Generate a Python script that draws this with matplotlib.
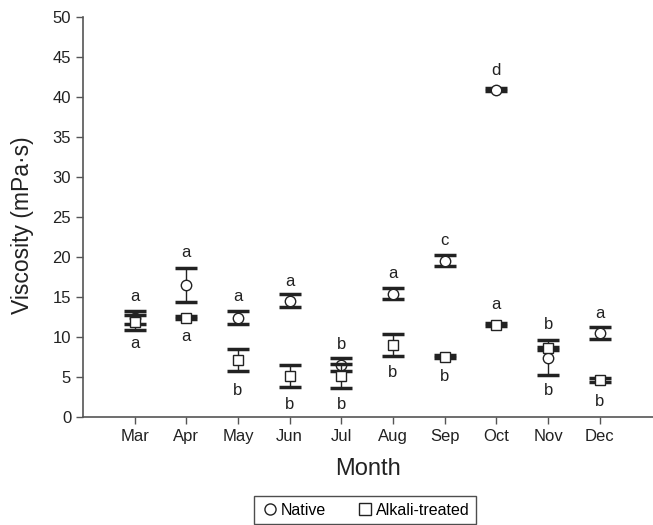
import numpy as np
import matplotlib
matplotlib.use('Agg')
import matplotlib.pyplot as plt
from matplotlib.lines import Line2D
from matplotlib import font_manager

# pick a narrow sans if one is installed
names = set(f.name for f in font_manager.fontManager.ttflist)
if 'Liberation Sans Narrow' in names:
	plt.rcParams['font.family'] = ['Liberation Sans Narrow', 'DejaVu Sans']
else:
	plt.rcParams['font.family'] = ['Liberation Sans', 'DejaVu Sans']

# ---------- data ---------- #

months = ['Mar', 'Apr', 'May', 'Jun', 'Jul', 'Aug', 'Sep', 'Oct', 'Nov', 'Dec']

native_mean = [12.4, 16.5, 12.4, 14.5, 6.5, 15.4, 19.5, 40.9, 7.4, 10.5]
native_err = [0.85, 2.1, 0.8, 0.8, 0.8, 0.7, 0.7, 0.2, 2.15, 0.75]
native_letter = ['a', 'a', 'a', 'a', 'b', 'a', 'c', 'd', 'b', 'a']
native_label_y = [15.0, 20.5, 15.0, 16.9, 9.0, 17.9, 22.1, 43.3, 3.3, 12.9]

alkali_mean = [11.8, 12.4, 7.1, 5.1, 5.1, 9.0, 7.5, 11.5, 8.55, 4.6]
alkali_err = [0.95, 0.2, 1.4, 1.4, 1.5, 1.35, 0.2, 0.2, 0.2, 0.2]
alkali_letter = ['a', 'a', 'b', 'b', 'b', 'b', 'b', 'a', 'b', 'b']
alkali_label_y = [9.2, 10.0, 3.3, 1.5, 1.5, 5.5, 5.0, 14.0, 11.5, 1.9]

# ---------- plot ---------- #

x = np.arange(len(months))
grey = '#555555'
dark = '#222222'

fig = plt.figure(figsize=(6.53, 5.25), dpi=100)
ax = fig.add_axes([0.127, 0.206, 0.873, 0.762])

bars = dict(fmt='none', ecolor=dark, elinewidth=1.0, capsize=8, capthick=2.5)
pts = dict(linestyle='none', markersize=7.5, markerfacecolor='white',
	markeredgecolor=dark, markeredgewidth=1.0)

ax.errorbar(x, native_mean, yerr=native_err, zorder=2, **bars)
ax.plot(x, native_mean, marker='o', zorder=3, **pts)
ax.errorbar(x, alkali_mean, yerr=alkali_err, zorder=4, **bars)
ax.plot(x, alkali_mean, marker='s', zorder=5, **pts)

for i in range(len(months)):
	ax.text(x[i], native_label_y[i], native_letter[i], ha='center', va='center',
		fontsize=12, color=dark)
	ax.text(x[i], alkali_label_y[i], alkali_letter[i], ha='center', va='center',
		fontsize=12, color=dark)

ax.set_xlim(-1, 10.03)
ax.set_ylim(0, 50)
ax.set_xticks(x)
ax.set_xticklabels(months)
ax.set_yticks(np.arange(0, 51, 5))

for s in ['top', 'right']:
	ax.spines[s].set_visible(False)
for s in ['left', 'bottom']:
	ax.spines[s].set_color(grey)
	ax.spines[s].set_linewidth(1.2)
ax.tick_params(colors=grey, labelcolor=dark, labelsize=12, length=5, width=1)

ax.set_xlabel('Month', fontsize=17, color=dark, labelpad=10)
ax.set_ylabel('Viscosity (mPa·s)', fontsize=16.5, color=dark)
ax.yaxis.set_label_coords(-0.086, 0.48)

handles = [
	Line2D([], [], linestyle='none', marker='o', markersize=8,
		markerfacecolor='white', markeredgecolor=dark),
	Line2D([], [], linestyle='none', marker='s', markersize=8,
		markerfacecolor='white', markeredgecolor=dark),
]
leg = fig.legend(handles, ['Native', 'Alkali-treated'], loc='upper center',
	bbox_to_anchor=(0.559, 0.055), ncol=2, fontsize=11.5, frameon=True,
	fancybox=False, edgecolor=dark, handletextpad=0.1, columnspacing=1.8,
	borderpad=0.4, borderaxespad=0, handlelength=1.2)
leg.get_frame().set_linewidth(1.0)

fig.savefig('out.png', dpi=100)
plt.close()
